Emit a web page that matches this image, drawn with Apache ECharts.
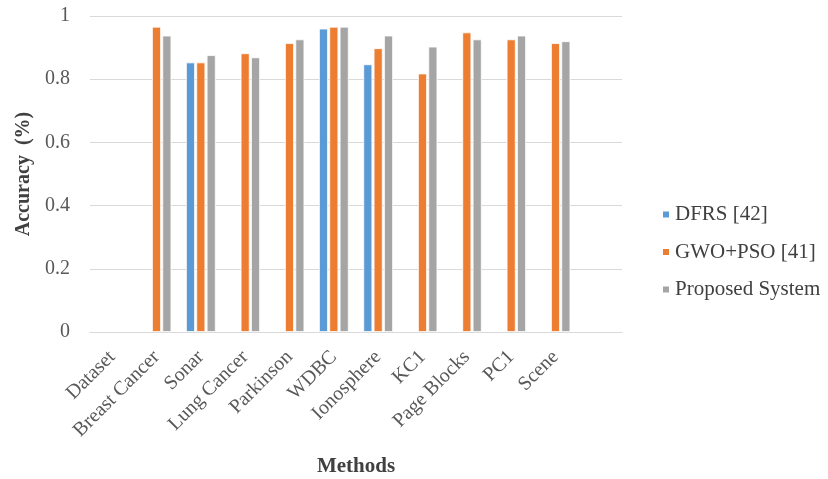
<!DOCTYPE html>
<html><head><meta charset="utf-8">
<script src="https://cdn.jsdelivr.net/npm/echarts@6/dist/echarts.min.js"></script>
<style>html,body{margin:0;padding:0;background:#fff}#c{width:828px;height:479px}</style>
</head><body><div id="c"></div>
<script>
const categories = ['Dataset','Breast Cancer','Sonar','Lung Cancer','Parkinson','WDBC','Ionosphere','KC1','Page Blocks','PC1','Scene',''];
const dfrs = [null,null,0.853,null,null,0.960,0.847,null,null,null,null,null];
const gwoPso = [null,0.966,0.853,0.882,0.914,0.966,0.898,0.818,0.948,0.926,0.914,null];
const proposed = [null,0.938,0.876,0.869,0.926,0.966,0.938,0.903,0.926,0.938,0.920,null];
const yTicks = [0,0.2,0.4,0.6,0.8,1];
const seriesNames = ['DFRS [42]','GWO+PSO [41]','Proposed System'];
const colors = ['#5B9BD5','#ED7D31','#A5A5A5'];
const font = 'Liberation Serif';
const chart = echarts.init(document.getElementById('c'));
function bar(name, data, color){
  return {name, type:'bar', data, barWidth:9, barGap:'15%',
    itemStyle:{color, borderColor:'#fff', borderWidth:0.8}};
}
chart.setOption({
  animation:false,
  textStyle:{fontFamily:font},
  grid:{left:90,right:206,top:16,bottom:147,outerBoundsMode:'none',containLabel:false},
  legend:{orient:'vertical',left:661,top:204,padding:0,itemWidth:8,itemHeight:8,itemGap:16.5,
    icon:'rect',data:seriesNames,
    textStyle:{fontFamily:font,fontSize:21,color:'#404040'}},
  xAxis:{type:'category',data:categories,
    name:'Methods',nameLocation:'middle',nameGap:124,
    nameTextStyle:{fontFamily:font,fontSize:21,fontWeight:'bold',color:'#404040'},
    axisLine:{lineStyle:{color:'#d9d9d9',width:1}},axisTick:{show:false},
    axisLabel:{rotate:45,interval:0,fontFamily:font,fontSize:20,color:'#595959',margin:22}},
  yAxis:{type:'value',min:0,max:1,interval:0.2,
    name:'Accuracy  (%)',nameLocation:'middle',nameGap:50,
    nameTextStyle:{fontFamily:font,fontSize:20,fontWeight:'bold',color:'#404040'},
    axisLine:{show:false},axisTick:{show:false},
    axisLabel:{fontFamily:font,fontSize:20,color:'#595959',margin:20,
      formatter:v=>{const t=yTicks.find(x=>Math.abs(x-v)<1e-9);return t===undefined?'':String(t);}},
    splitLine:{lineStyle:{color:'#d9d9d9',width:1}}},
  series:[bar(seriesNames[0],dfrs,colors[0]),bar(seriesNames[1],gwoPso,colors[1]),bar(seriesNames[2],proposed,colors[2])]
});
</script></body></html>
